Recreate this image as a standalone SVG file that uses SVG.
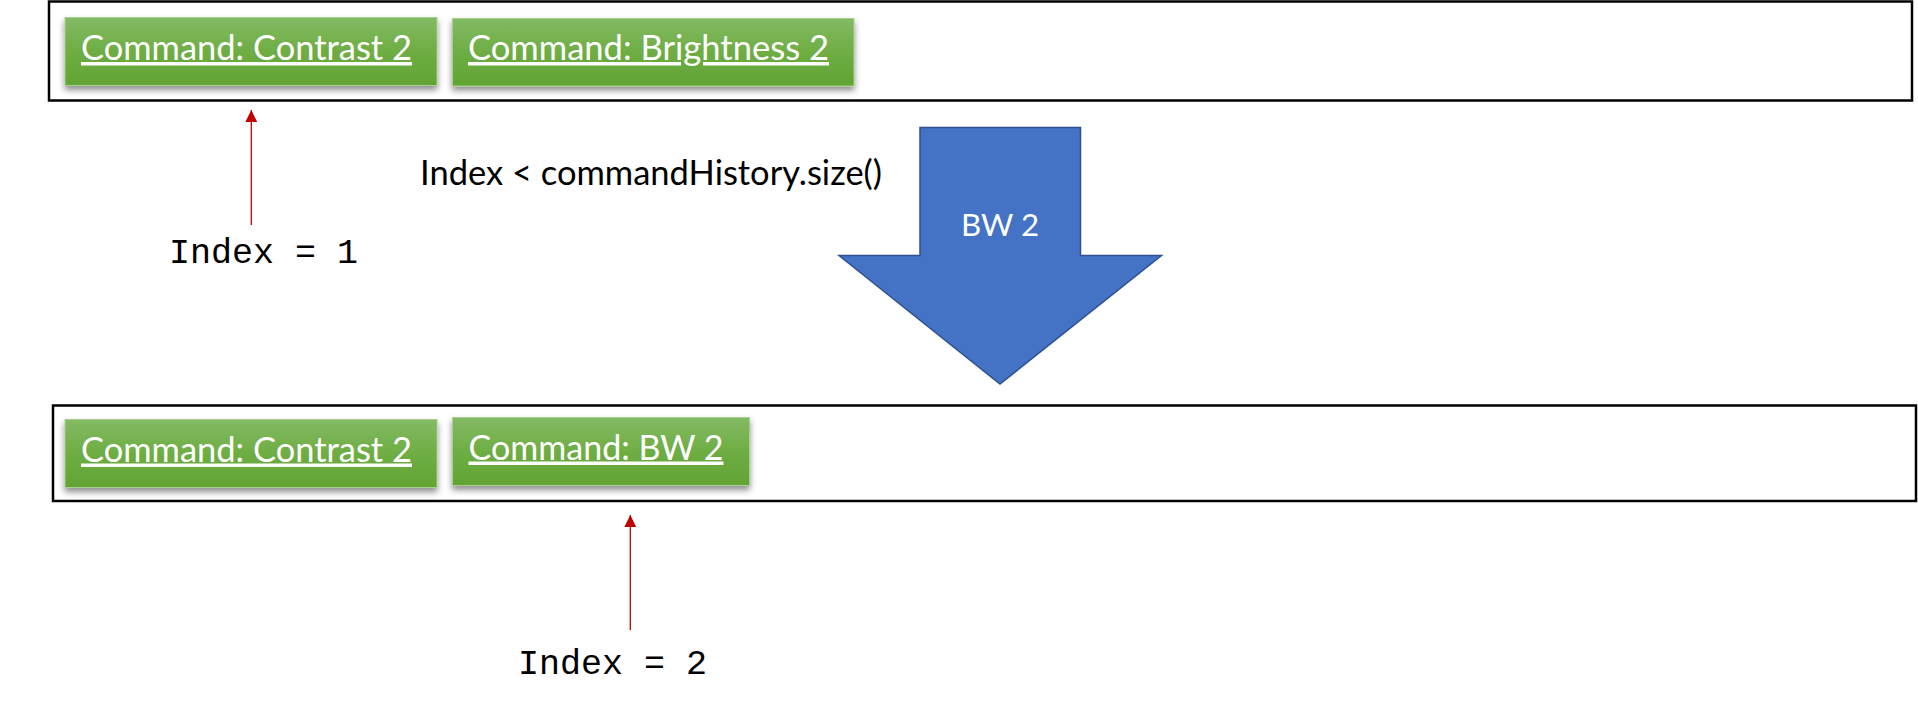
<svg xmlns="http://www.w3.org/2000/svg" width="1918" height="706" viewBox="0 0 1918 706">
  <defs>
    <linearGradient id="green" x1="0" y1="0" x2="0" y2="1">
      <stop offset="0" stop-color="#83BA64"/>
      <stop offset="0.5" stop-color="#6EAD43"/>
      <stop offset="1" stop-color="#62A434"/>
    </linearGradient>
    <filter id="shadow" x="-10%" y="-20%" width="120%" height="160%">
      <feDropShadow dx="0" dy="4" stdDeviation="3" flood-color="#000" flood-opacity="0.45"/>
    </filter>
    <marker id="redhead" viewBox="0 0 12 12" refX="12" refY="6" markerWidth="12" markerHeight="12" markerUnits="userSpaceOnUse" orient="auto">
      <path d="M0,0 L12,6 L0,12 Z" fill="#C00000"/>
    </marker>
  </defs>
  <style>
    .frame { fill: #FFFFFF; stroke: #000000; stroke-width: 2.5; }
    .cmd { fill: url(#green); stroke: #A8CF8E; stroke-width: 1; filter: url(#shadow); }
    .cmdtxt { font-family: Lato, "Open Sans", "Liberation Sans", sans-serif; font-size: 35px; fill: #FFFFFF; text-decoration: underline; }
    .label { font-family: Lato, "Open Sans", "Liberation Sans", sans-serif; font-size: 35px; fill: #000000; }
    .mono { font-family: "Liberation Mono", "DejaVu Sans Mono", monospace; font-size: 35px; fill: #000000; }
    .conn { stroke: #C00000; stroke-width: 1.3; fill: none; }
    .block { fill: #4472C4; stroke: #2F528F; stroke-width: 1.5; }
    .blocktxt { font-family: Lato, "Open Sans", "Liberation Sans", sans-serif; font-size: 31px; fill: #FFFFFF; }
  </style>
  <rect width="1918" height="706" fill="#FFFFFF"/>

  <g id="history-before">
    <rect class="frame" x="49" y="1.5" width="1863" height="99"/>
  </g>
  <g id="cmd-contrast-top">
    <rect class="cmd" x="65" y="17.5" width="372" height="68"/>
    <text class="cmdtxt" x="81" y="60" textLength="331" lengthAdjust="spacingAndGlyphs">Command: Contrast 2</text>
  </g>
  <g id="cmd-brightness-top">
    <rect class="cmd" x="452.5" y="18.5" width="401.5" height="67.5"/>
    <text class="cmdtxt" x="468" y="60" textLength="361" lengthAdjust="spacingAndGlyphs">Command: Brightness 2</text>
  </g>

  <g id="condition-label">
    <text class="label" x="420" y="185" textLength="462" lengthAdjust="spacingAndGlyphs">Index &lt; commandHistory.size()</text>
  </g>

  <g id="bw-transition">
    <polygon class="block" points="920,127.5 1080.5,127.5 1080.5,255.5 1161.5,255.5 1000,384 839,255.5 920,255.5"/>
    <text class="blocktxt" x="1000" y="236" text-anchor="middle" textLength="78" lengthAdjust="spacingAndGlyphs">BW 2</text>
  </g>

  <g id="history-after">
    <rect class="frame" x="53" y="405.5" width="1863" height="95.5"/>
  </g>
  <g id="cmd-contrast-bottom">
    <rect class="cmd" x="65" y="419.5" width="372" height="68"/>
    <text class="cmdtxt" x="81" y="461.5" textLength="331" lengthAdjust="spacingAndGlyphs">Command: Contrast 2</text>
  </g>
  <g id="cmd-bw-bottom">
    <rect class="cmd" x="452.5" y="417.5" width="297" height="68"/>
    <text class="cmdtxt" x="468.5" y="459.5" textLength="255" lengthAdjust="spacingAndGlyphs">Command: BW 2</text>
  </g>

  <g id="index-1">
    <text class="mono" x="169" y="262.5">Index = 1</text>
  </g>
  <g id="index-2">
    <text class="mono" x="518" y="673.5">Index = 2</text>
  </g>

  <g id="connectors">
    <line class="conn" x1="251.3" y1="225" x2="251.3" y2="110" marker-end="url(#redhead)"/>
    <line class="conn" x1="630.3" y1="630" x2="630.3" y2="515" marker-end="url(#redhead)"/>
  </g>
</svg>
